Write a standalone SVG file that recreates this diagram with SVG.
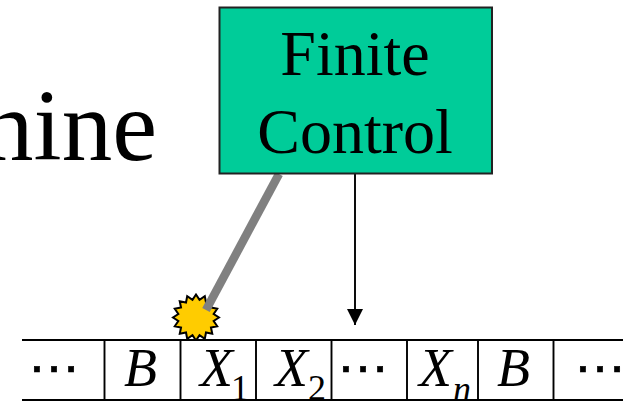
<svg xmlns="http://www.w3.org/2000/svg" width="623" height="401" viewBox="0 0 623 401">
<defs>
<style>
text{font-family:"Liberation Serif","Times New Roman",serif;fill:#000}
.c{font-size:64px;text-anchor:middle}
.s{font-size:54px;font-style:italic}
.u{font-size:36px}
.ui{font-size:36px;font-style:italic}
.d{font-size:54px;font-family:"Liberation Sans",Arial,sans-serif;stroke:#000;stroke-width:0.7}
.t{stroke:#000;stroke-width:1.9;fill:none}
</style>
<marker id="ah" markerUnits="userSpaceOnUse" markerWidth="16" markerHeight="16" refX="16" refY="8" orient="auto"><path d="M0 0L16 8L0 16Z" fill="#000"/></marker>
</defs>
<rect width="623" height="401" fill="#fff"/>
<text x="157" y="160" font-size="101" text-anchor="end">nine</text>
<g id="head">
<path id="star" d="M219 317.500L213.650 321L217.250 326.300L210.970 327.500L212.260 333.760L206 332.470L204.800 338.750L199.510 335.150L196 340.500L192.490 335.150L187.200 338.750L186 332.470L179.740 333.760L181.030 327.500L174.750 326.300L178.350 321L173 317.500L178.350 314L174.750 308.700L181.030 307.500L179.740 301.240L186 302.530L187.200 296.250L192.490 299.850L196 294.500L199.510 299.850L204.800 296.250L206 302.530L212.260 301.240L210.970 307.500L217.250 308.700L213.650 314Z" fill="#ffcc00" stroke="#000" stroke-width="2"/>
</g>
<g id="connectors">
<line x1="279" y1="174" x2="206" y2="310" stroke="#808080" stroke-width="8.500"/>
<line x1="355" y1="174" x2="355" y2="325" stroke="#000" stroke-width="1.9" marker-end="url(#ah)"/>
</g>
<g id="finite-control">
<rect x="219.500" y="7.500" width="272.500" height="166" fill="#00cc99" stroke="#222" stroke-width="2"/>
<text class="c" x="355" y="75">Finite</text>
<text class="c" x="355" y="153">Control</text>
</g>
<g id="tape">
<rect x="22" y="340" width="601" height="60" fill="#fff"/>
<path class="t" d="M22 340H623M22 400H623M104.500 340V400M180.500 340V400M256 340V400M331.500 340V400M407 340V400M478 340V400M553.500 340V400"/>
</g>
<g id="cell-1"><text class="d" x="27" y="371.500">…</text></g>
<g id="cell-2"><text class="s" x="124" y="386">B</text></g>
<g id="cell-3"><text class="s" x="200" y="386">X</text><text class="u" x="231" y="400">1</text></g>
<g id="cell-4"><text class="s" x="275" y="386">X</text><text class="u" x="308" y="400">2</text></g>
<g id="cell-5"><text class="d" x="336" y="371.500">…</text></g>
<g id="cell-6"><text class="s" x="419" y="386">X</text><text class="ui" x="453" y="401">n</text></g>
<g id="cell-7"><text class="s" x="497" y="386">B</text></g>
<g id="cell-8"><text class="d" x="573" y="371.500">…</text></g>
</svg>
